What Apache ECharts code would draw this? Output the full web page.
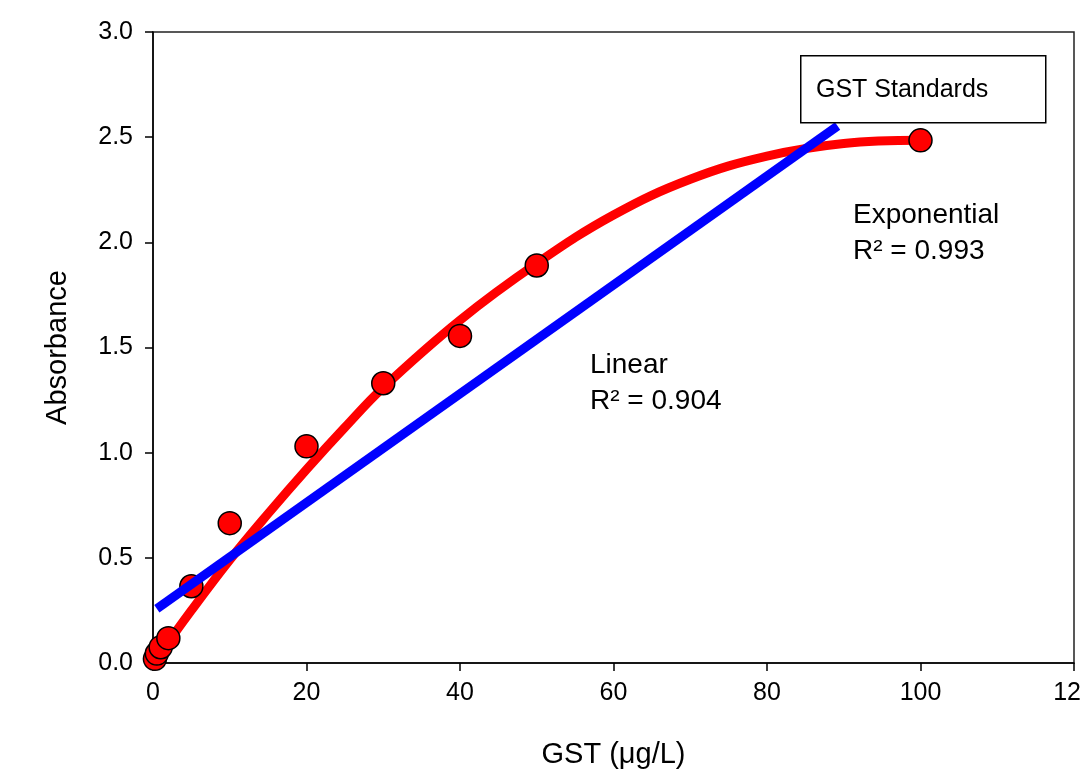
<!DOCTYPE html>
<html>
<head>
<meta charset="utf-8">
<title>GST Standards</title>
<script src="https://cdn.jsdelivr.net/npm/echarts@6/dist/echarts.min.js"></script>
<style>
    html, body { margin: 0; padding: 0; background: #fff; }
    #main { width: 1082px; height: 779px; }
</style>
</head>
<body>
<div id="main"></div>
<script>
// measured standards (x = GST ug/L, y = absorbance)
const gstConc = [0.25, 0.5, 1, 2, 5, 10, 20, 30, 40, 50, 100]
const absorbance = [0.02, 0.045, 0.075, 0.118, 0.365, 0.665, 1.03, 1.33, 1.555, 1.89, 2.485]

// exponential fit curve
const expFitX = [0.25, 5, 10, 15, 20, 25, 30, 40, 50, 60, 70, 80, 90, 100]
const expFitY = [0.01, 0.25, 0.49, 0.71, 0.92, 1.12, 1.31, 1.63, 1.9, 2.13, 2.3, 2.41, 2.47, 2.485]

// linear fit, end points
const linFitX = [0.5, 89.2]
const linFitY = [0.258, 2.553]

const xTicks = [0, 20, 40, 60, 80, 100, 120]
const yTicks = [0, 0.5, 1, 1.5, 2, 2.5, 3]

const FONT = 'Liberation Sans, Arial, sans-serif'

function pairs(xs, ys) {
    return xs.map((x, i) => [x, ys[i]])
}

const chart = echarts.init(document.getElementById('main'))

const axisLine = { show: true, lineStyle: { color: '#000', width: 1.5 } }

let option = {
    animation: false,
    backgroundColor: '#fff',
    grid: {
        left: 153,
        right: 8,
        top: 32,
        bottom: 116,
        outerBoundsMode: 'none',
        containLabel: false,
        show: true,
        borderColor: '#222',
        borderWidth: 1.5,
        backgroundColor: 'transparent'
    },
    xAxis: {
        type: 'value',
        min: xTicks[0],
        max: xTicks[xTicks.length - 1],
        interval: 20,
        axisLine: axisLine,
        axisTick: { show: true, inside: false, length: 8, lineStyle: { color: '#000', width: 1.5 } },
        axisLabel: { color: '#000', fontFamily: FONT, fontSize: 25, margin: 18, showMaxLabel: true },
        splitLine: { show: false },
        name: 'GST (\u03bcg/L)',
        nameLocation: 'middle',
        nameGap: 77,
        nameTextStyle: { color: '#000', fontFamily: FONT, fontSize: 29 }
    },
    yAxis: {
        type: 'value',
        min: yTicks[0],
        max: yTicks[yTicks.length - 1],
        interval: 0.5,
        axisLine: axisLine,
        axisTick: { show: true, inside: false, length: 8, lineStyle: { color: '#000', width: 1.5 } },
        axisLabel: {
            color: '#000', fontFamily: FONT, fontSize: 25, margin: 20,
            formatter: v => v.toFixed(1)
        },
        splitLine: { show: false },
        name: 'Absorbance',
        nameLocation: 'middle',
        nameGap: 81,
        nameTextStyle: { color: '#000', fontFamily: FONT, fontSize: 29 }
    },
    series: [
        {
            name: 'Exponential',
            type: 'line',
            data: pairs(expFitX, expFitY),
            smooth: 0.4,
            showSymbol: false,
            lineStyle: { color: '#ff0000', width: 9 },
            z: 2
        },
        {
            name: 'GST Standards',
            type: 'scatter',
            data: pairs(gstConc, absorbance),
            symbol: 'circle',
            symbolSize: 23,
            itemStyle: { color: '#ff0000', opacity: 1, borderColor: '#000', borderWidth: 1.5 },
            z: 3
        },
        {
            name: 'Linear',
            type: 'line',
            data: pairs(linFitX, linFitY),
            showSymbol: false,
            lineStyle: { color: '#0000ff', width: 9, cap: 'butt' },
            z: 4
        }
    ],
    graphic: [
        // legend box
        {
            type: 'rect',
            left: 800,
            top: 55,
            shape: { width: 245, height: 67 },
            style: { fill: '#fff', stroke: '#000', lineWidth: 1.5 },
            z: 10
        },
        {
            type: 'text',
            left: 816,
            top: 78,
            style: { text: 'GST Standards', fill: '#000', font: '25px ' + FONT },
            z: 11
        },
        // fit labels
        {
            type: 'text',
            left: 590,
            top: 347,
            style: { text: 'Linear\nR\u00b2 = 0.904', fill: '#000', font: '28px ' + FONT, lineHeight: 36 },
            z: 11
        },
        {
            type: 'text',
            left: 853,
            top: 197,
            style: { text: 'Exponential\nR\u00b2 = 0.993', fill: '#000', font: '28px ' + FONT, lineHeight: 36 },
            z: 11
        }
    ]
}

chart.setOption(option)
</script>
</body>
</html>
